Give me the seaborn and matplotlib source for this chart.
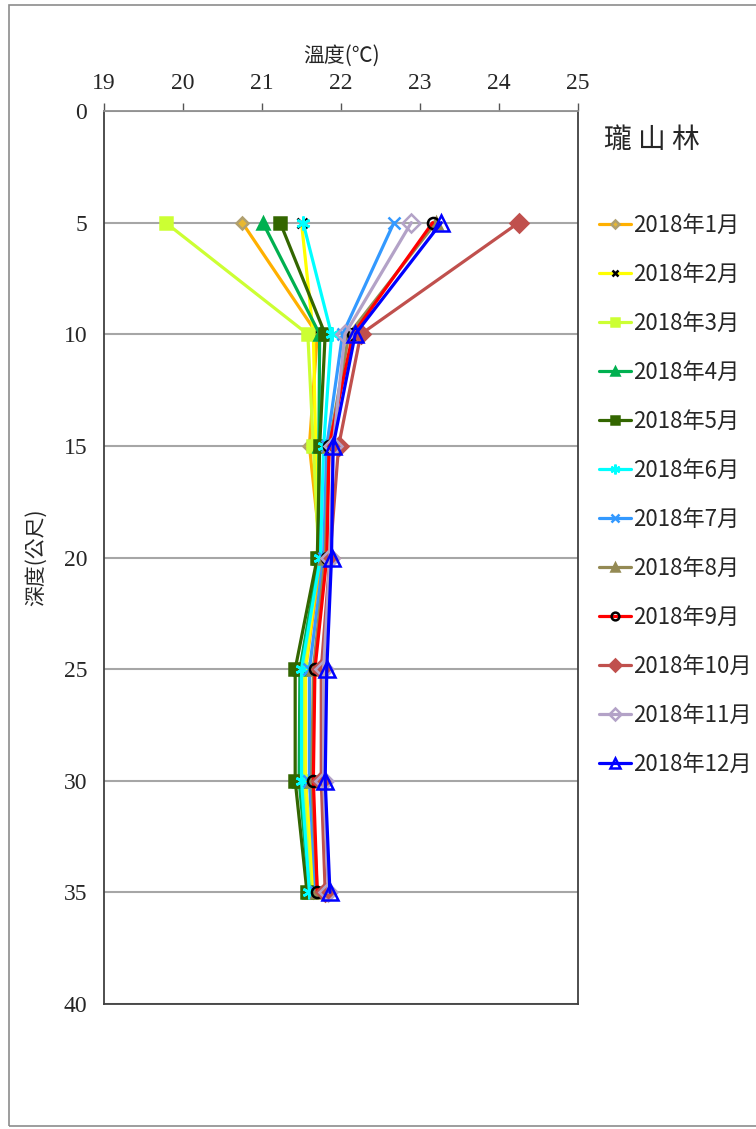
import matplotlib
matplotlib.use("Agg")
import matplotlib.pyplot as plt
import numpy as np
import pandas as pd
import seaborn as sns
from matplotlib.patches import Rectangle

depths = [5, 10, 15, 20, 25, 30, 35]
months = [f"2018年{m}月" for m in range(1, 13)]

jan = [20.75, 21.70, 21.60, 21.75, 21.55, 21.55, 21.65]
feb = [21.50, 21.65, 21.68, 21.72, 21.55, 21.55, 21.65]
mar = [19.78, 21.58, 21.65, 21.72, 21.52, 21.52, 21.62]
apr = [21.01, 21.73, 21.72, 21.72, 21.48, 21.47, 21.60]
may = [21.23, 21.80, 21.73, 21.70, 21.42, 21.42, 21.57]
jun = [21.52, 21.88, 21.78, 21.74, 21.50, 21.50, 21.60]
jul = [22.67, 22.02, 21.82, 21.78, 21.60, 21.60, 21.68]
aug = [23.20, 22.10, 21.85, 21.80, 21.65, 21.63, 21.70]
sep = [23.16, 22.15, 21.85, 21.82, 21.67, 21.65, 21.70]
oct_ = [24.25, 22.25, 21.97, 21.86, 21.75, 21.75, 21.80]
nov = [22.89, 22.05, 21.90, 21.86, 21.78, 21.78, 21.84]
dec = [23.27, 22.18, 21.90, 21.88, 21.82, 21.80, 21.86]
series = [jan, feb, mar, apr, may, jun, jul, aug, sep, oct_, nov, dec]

x_ticks = [19, 20, 21, 22, 23, 24, 25]
y_ticks = [0, 5, 10, 15, 20, 25, 30, 35, 40]

# line colour, marker, marker face, marker edge, marker size
styles = [
    ("#FFB000", "D", "#E8B830", "#B0A070", 6),
    ("#FFFF00", "x", "black", "black", 7),
    ("#CCFF33", "s", "#CCFF33", "#CCFF33", 9),
    ("#00B050", "^", "#00B050", "#00B050", 8),
    ("#336600", "s", "#336600", "#336600", 8),
    ("#00FFFF", (6, 2, 0), "#00FFFF", "#00FFFF", 10),
    ("#3399FF", "x", "#3399FF", "#3399FF", 8),
    ("#948A54", "^", "#948A54", "#948A54", 8),
    ("#FF0000", "o", "none", "black", 8),
    ("#C0504D", "D", "#C0504D", "#C0504D", 9),
    ("#B3A2C7", "D", "none", "#B3A2C7", 9),
    ("#0000FF", "^", "none", "#0000FF", 11),
]

sns.set_style("white")
cjk = ["Noto Sans CJK TC", "DejaVu Sans"]
plt.rcParams["font.family"] = cjk

fig = plt.figure(figsize=(7.56, 11.29), dpi=100)
ax = fig.add_axes([104 / 756, 1 - 1004 / 1129, 474 / 756, 893 / 1129])

for name, vals, (lc, mk, mf, me, ms) in zip(months, series, styles):
    df = pd.DataFrame({"temp": vals, "depth": depths})
    sns.lineplot(data=df, x="temp", y="depth", sort=False, estimator=None,
                 color=lc, lw=2.3, marker=mk, markerfacecolor=mf,
                 markeredgecolor=me, markersize=ms, markeredgewidth=1.8,
                 label=name, ax=ax)

ax.set_xlim(19, 25)
ax.set_ylim(40, 0)
ax.set_xticks(x_ticks)
ax.set_yticks(y_ticks)
ax.xaxis.tick_top()
ax.xaxis.set_label_position("top")
ax.tick_params(axis="both", direction="out", length=6, width=1, color="#555555",
               labelsize=17, pad=6)
for lab in ax.get_xticklabels() + ax.get_yticklabels():
    lab.set_family("Liberation Serif")
ax.grid(axis="y", color="#A6A6A6", lw=1.5)
ax.set_axisbelow(True)
for side, sp in ax.spines.items():
    sp.set_visible(True)
    sp.set_color("#404040" if side in ("left", "right", "bottom") else "#909090")
    sp.set_linewidth(1.3)

ax.set_xlabel("溫度(℃)", fontsize=15, labelpad=8)
ax.set_ylabel("深度(公尺)", fontsize=15, labelpad=12)

leg = ax.legend(loc="upper left", bbox_to_anchor=(1.025, 0.895), frameon=False,
                fontsize=16, handlelength=1.45, handletextpad=0.1,
                labelspacing=1.17, borderaxespad=0, markerscale=0.7)

fig.text(604 / 756, 1 - 140 / 1129, "瓏 山 林", fontsize=20, va="center",
         ha="left", family=cjk)

fig.patches.append(Rectangle((9 / 756, 1 - 1126 / 1129), 800 / 756, 1121 / 1129,
                             transform=fig.transFigure, fill=False,
                             edgecolor="#8C8C8C", lw=1.2))

fig.savefig("out.png", dpi=100)
